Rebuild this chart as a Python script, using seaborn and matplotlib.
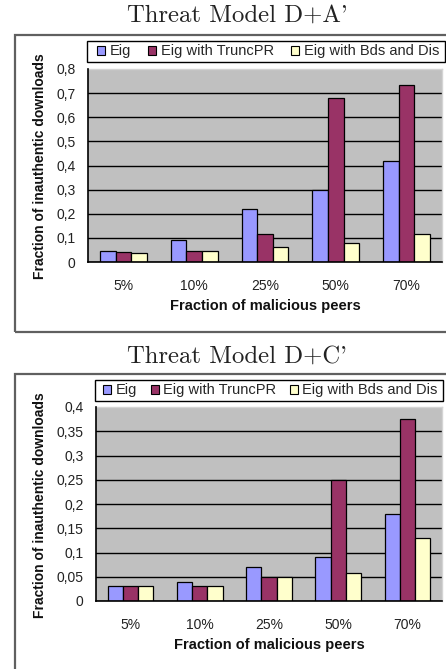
import numpy as np
import pandas as pd
import seaborn as sns
import matplotlib.pyplot as plt
from matplotlib.patches import Rectangle, Patch
from matplotlib.ticker import FixedLocator, FuncFormatter

# ---- data -------------------------------------------------------------
categories = ["5%", "10%", "25%", "50%", "70%"]
series = ["Eig", "Eig with TruncPR", "Eig with Bds and Dis"]
colors = ["#9999FF", "#993366", "#FFFFCC"]

# Threat Model D+A'
eig_a = [0.047, 0.09, 0.22, 0.30, 0.42]
trunc_a = [0.043, 0.046, 0.118, 0.678, 0.735]
bds_a = [0.037, 0.047, 0.062, 0.08, 0.117]

# Threat Model D+C'
eig_c = [0.03, 0.04, 0.07, 0.09, 0.18]
trunc_c = [0.03, 0.03, 0.05, 0.25, 0.375]
bds_c = [0.03, 0.03, 0.05, 0.058, 0.13]

ticks_a = [0, 0.1, 0.2, 0.3, 0.4, 0.5, 0.6, 0.7, 0.8]
ticks_c = [0, 0.05, 0.1, 0.15, 0.2, 0.25, 0.3, 0.35, 0.4]

titles = ["Threat Model D+A'", "Threat Model D+C'"]
xlabel = "Fraction of malicious peers"
ylabel = "Fraction of inauthentic downloads"

# ---- style ------------------------------------------------------------
sns.set_style("white")
plt.rcParams["font.family"] = ["Liberation Sans", "DejaVu Sans"]

W, H = 446, 669
fig = plt.figure(figsize=(W / 100, H / 100), dpi=100)


def fx(px):
    return px / W


def fy(py):
    return 1 - py / H


def long_frame(a, b, c):
    rows = []
    for name, vals in zip(series, (a, b, c)):
        for cat, v in zip(categories, vals):
            rows.append({"cat": cat, "series": name, "value": v})
    return pd.DataFrame(rows)


panels = [
    dict(data=(eig_a, trunc_a, bds_a), ticks=ticks_a, title=titles[0],
         ax=(88, 69, 442, 262), frame=(15, 35, 332), legend=(87, 41, 445, 62),
         handle_x=97, colspace=1.2, title_y=16, ylab=(40, 166), xlab_y=306),
    dict(data=(eig_c, trunc_c, bds_c), ticks=ticks_c, title=titles[1],
         ax=(96, 407, 442, 601), frame=(15, 374, 700), legend=(95, 380, 443, 401),
         handle_x=103, colspace=0.95, title_y=357, ylab=(40, 505), xlab_y=645),
]


def fmt(v, _):
    return f"{v:g}".replace(".", ",")


for p in panels:
    # outer chart frame
    fl, ft, fb = p["frame"]
    fig.patches.append(Rectangle((fx(fl), fy(fb)), fx(W + 20 - fl), (fb - ft) / H,
                                 transform=fig.transFigure, fill=False,
                                 edgecolor="#606060", linewidth=1.6, zorder=0))
    # title
    fig.text(fx(237), fy(p["title_y"]), p["title"], ha="center", va="center",
             fontsize=17.8, family=["cmr10"], color="#222222")

    l, t, r, b = p["ax"]
    ax = fig.add_axes([fx(l), fy(b), (r - l) / W, (b - t) / H])
    ax.set_facecolor("#C0C0C0")
    df = long_frame(*p["data"])
    sns.barplot(data=df, x="cat", y="value", hue="series", palette=colors,
                hue_order=series, order=categories, width=0.66, saturation=1,
                edgecolor="black", linewidth=0.9, legend=False, ax=ax, zorder=3)

    ticks = p["ticks"]
    ax.set_ylim(0, ticks[-1])
    ax.set_xlim(-0.5, 4.5)
    ax.yaxis.set_major_locator(FixedLocator(ticks))
    ax.yaxis.set_major_formatter(FuncFormatter(fmt))
    ax.yaxis.grid(True, color="black", linewidth=1.0, zorder=1)
    ax.set_axisbelow(True)
    ax.tick_params(axis="y", which="major", direction="out", length=4, width=1,
                   color="black", labelsize=10, pad=5)
    ax.tick_params(axis="x", which="major", length=0, labelsize=10, pad=12)
    ax.xaxis.set_minor_locator(FixedLocator(np.arange(-0.5, 5, 1.0)))
    ax.tick_params(axis="x", which="minor", direction="out", length=5, width=1,
                   color="black")
    for lab in ax.get_xticklabels() + ax.get_yticklabels():
        lab.set_color("#222222")
    ax.set_xlabel("")
    ax.set_ylabel("")
    fig.canvas.draw()
    ax.get_ygridlines()[-1].set_visible(False)
    for side in ("top", "right"):
        ax.spines[side].set_color("#D4D4D4")
        ax.spines[side].set_linewidth(1.0)
    for side in ("left", "bottom"):
        ax.spines[side].set_color("black")
        ax.spines[side].set_linewidth(1.2)
        ax.spines[side].set_zorder(4)

    # axis titles
    fig.text(fx((l + r) / 2), fy(p["xlab_y"]), xlabel, ha="center", va="center",
             fontsize=10.5, fontweight="bold", color="#111111")
    yx, yy = p["ylab"]
    fig.text(fx(yx), fy(yy), ylabel, ha="center", va="center", rotation=90,
             fontsize=10, fontweight="bold", color="#111111")

    # legend box and entries
    ll, lt, lr, lb = p["legend"]
    fig.patches.append(Rectangle((fx(ll), fy(lb)), (lr - ll) / W, (lb - lt) / H,
                                 transform=fig.transFigure, facecolor="white",
                                 edgecolor="black", linewidth=1.0, zorder=1))
    handles = [Patch(facecolor=c, edgecolor="black", linewidth=0.8) for c in colors]
    fig.legend(handles, series, loc="center left",
               bbox_to_anchor=(fx(p["handle_x"]), fy((lt + lb) / 2)),
               bbox_transform=fig.transFigure, ncol=3, fontsize=10.5,
               frameon=False, handlelength=0.55, handleheight=0.55,
               handletextpad=0.3, columnspacing=p["colspace"], borderpad=0,
               borderaxespad=0)

fig.savefig("out.png", dpi=100)
